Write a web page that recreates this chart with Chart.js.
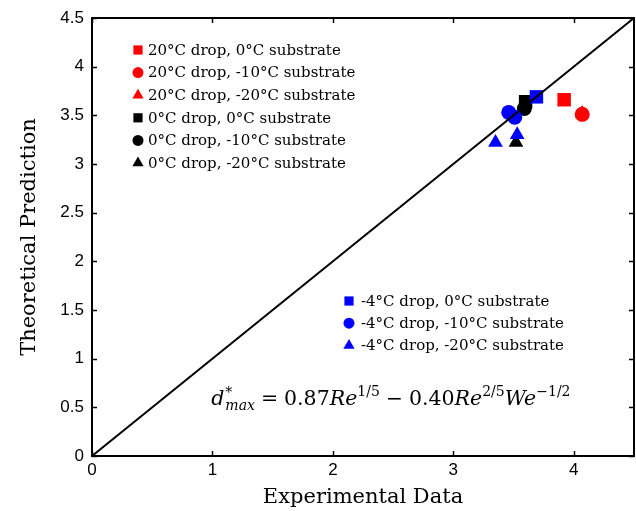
<!DOCTYPE html>
<html><head><meta charset="utf-8">
<script src="https://cdn.jsdelivr.net/npm/chart.js@4/dist/chart.umd.min.js"></script>
<style>html,body{margin:0;padding:0;background:#fff}#wrap{width:636px;height:511px}</style>
</head><body><div id="wrap"><canvas id="c" width="636" height="511"></canvas></div>
<script>
const xTicks = [0, 1, 2, 3, 4];
const yTicks = [0, 0.5, 1, 1.5, 2, 2.5, 3, 3.5, 4, 4.5];
const xTitle = 'Experimental Data';
const yTitle = 'Theoretical Prediction';
const seriesLabels = [
  '20°C drop, 0°C substrate', '20°C drop, -10°C substrate', '20°C drop, -20°C substrate',
  '0°C drop, 0°C substrate', '0°C drop, -10°C substrate', '0°C drop, -20°C substrate',
  '-4°C drop, 0°C substrate', '-4°C drop, -10°C substrate', '-4°C drop, -20°C substrate'
];
const seriesColors = ['#ff0000','#ff0000','#ff0000','#000000','#000000','#000000','#0000ff','#0000ff','#0000ff'];
const seriesShapes = ['rect','circle','triangle','rect','circle','triangle','rect','circle','triangle'];
// experimental x, theoretical y for each series
const red0x = [3.92], red0y = [3.66];
const red10x = [4.07], red10y = [3.51];
const red20x = [4.07], red20y = [3.52];
const blk0x = [3.6], blk0y = [3.64];
const blk10x = [3.59], blk10y = [3.57];
const blk20x = [3.52], blk20y = [3.22];
const blu0x = [3.69], blu0y = [3.69];
const blu10x = [3.46, 3.51], blu10y = [3.53, 3.48];
const blu20x = [3.35, 3.53], blu20y = [3.22, 3.3];
const seriesX = [red0x, red10x, red20x, blk0x, blk10x, blk20x, blu0x, blu10x, blu20x];
const seriesY = [red0y, red10y, red20y, blk0y, blk10y, blk20y, blu0y, blu10y, blu20y];
const lineX = [0, 4.5], lineY = [0, 4.5];
const legendGroupA = [0,1,2,3,4,5];
const legendGroupB = [6,7,8];

const radii = {rect: 9.5, circle: 7.5, triangle: 8.5};
const datasets = [{
  label: 'y = x', data: lineX.map((x,i)=>({x, y: lineY[i]})), showLine: true,
  borderColor: '#000', borderWidth: 2, pointRadius: 0, order: 0
}];
seriesLabels.forEach((lab, i) => {
  datasets.push({
    label: lab, data: seriesX[i].map((x,j)=>({x, y: seriesY[i][j]})),
    pointStyle: seriesShapes[i], backgroundColor: seriesColors[i], borderColor: seriesColors[i],
    borderWidth: 0, pointRadius: radii[seriesShapes[i]], pointHoverRadius: radii[seriesShapes[i]],
    showLine: false, order: i < 3 ? 3 : (i < 6 ? 2 : 1)
  });
});

const serif = '"DejaVu Serif", "Liberation Serif", serif';
const sans = '"Liberation Sans", Arial, sans-serif';

const framePlugin = {
  id: 'frame',
  afterDraw(chart) {
    const {ctx, chartArea: a, scales: {x, y}} = chart;
    ctx.save();
    ctx.strokeStyle = '#000'; ctx.lineWidth = 2;
    ctx.strokeRect(a.left, a.top, a.right - a.left, a.bottom - a.top);
    ctx.lineWidth = 1.5;
    const tl = 5;
    ctx.beginPath();
    xTicks.forEach(v => { const px = Math.round(x.getPixelForValue(v)) + 0.5;
      ctx.moveTo(px, a.bottom); ctx.lineTo(px, a.bottom - tl);
      ctx.moveTo(px, a.top); ctx.lineTo(px, a.top + tl); });
    yTicks.forEach(v => { const py = Math.round(y.getPixelForValue(v)) + 0.5;
      ctx.moveTo(a.left, py); ctx.lineTo(a.left + tl, py);
      ctx.moveTo(a.right, py); ctx.lineTo(a.right - tl, py); });
    ctx.stroke();

    // legends
    const drawGroup = (idxs, x0, y0, dy, mx) => {
      ctx.font = '15px ' + serif; ctx.textBaseline = 'middle'; ctx.textAlign = 'left';
      idxs.forEach((i, k) => {
        const yy = y0 + k * dy;
        const shape = seriesShapes[i];
        ctx.fillStyle = seriesColors[i]; ctx.strokeStyle = seriesColors[i];
        Chart.helpers.drawPoint(ctx, {pointStyle: shape, radius: shape==='rect'?6.5:(shape==='circle'?5.5:6.5), rotation: 0, borderWidth: 0}, mx, yy);
        ctx.fillStyle = '#000';
        ctx.fillText(seriesLabels[i], x0, yy + 1);
      });
    };
    drawGroup(legendGroupA, 148, 50, 22.6, 138);
    drawGroup(legendGroupB, 361, 301, 22.2, 349);

    // formula
    let fx = x.getPixelForValue(0.99), fy = y.getPixelForValue(0.52);
    ctx.textBaseline = 'alphabetic'; ctx.fillStyle = '#000';
    const main = 20.5, small = 14;
    const put = (t, style, size, dy) => { ctx.font = style + ' ' + size + 'px ' + serif; ctx.fillText(t, fx, fy + (dy||0)); fx += ctx.measureText(t).width; };
    put('d', 'italic', main);
    const sx = fx + 1;
    ctx.font = 'italic ' + small + 'px ' + serif;
    ctx.fillText('*', sx, fy - 8);
    ctx.fillText('max', sx, fy + 5);
    fx = sx + ctx.measureText('max').width + 6;
    put('=', '', main); fx += 6;
    put('0.87', '', main);
    put('Re', 'italic', main);
    put('1/5', '', small, -9); fx += 6;
    put('−', '', main); fx += 6;
    put('0.40', '', main);
    put('Re', 'italic', main);
    put('2/5', '', small, -9);
    put('We', 'italic', main);
    put('−1/2', '', small, -9);
    ctx.restore();
  }
};

new Chart(document.getElementById('c'), {
  type: 'scatter',
  data: {datasets},
  options: {
    responsive: false, animation: false, devicePixelRatio: 1,
    layout: {autoPadding: false, padding: {top: 18, right: 2, left: 0, bottom: 0}},
    plugins: {legend: {display: false}, tooltip: {enabled: false}},
    scales: {
      x: {
        type: 'linear', min: 0, max: 4.5,
        afterFit: s => { s.height = 55; s.paddingRight = 0; s.paddingLeft = 0; },
        afterBuildTicks: s => { s.ticks = xTicks.map(v => ({value: v})); },
        grid: {display: false, drawTicks: false}, border: {display: false},
        ticks: {padding: 4, color: '#000', font: {family: sans, size: 17}, callback: v => String(v)},
        title: {display: true, text: xTitle, color: '#000', font: {family: serif, size: 21}, padding: {top: 0, bottom: 1}}
      },
      y: {
        type: 'linear', min: 0, max: 4.5,
        afterFit: s => { s.width = 92; s.paddingTop = 0; s.paddingBottom = 0; },
        afterBuildTicks: s => { s.ticks = yTicks.map(v => ({value: v})); },
        grid: {display: false, drawTicks: false}, border: {display: false},
        ticks: {padding: 8, color: '#000', font: {family: sans, size: 17}, callback: v => String(v)},
        title: {display: true, text: yTitle, color: '#000', font: {family: serif, size: 21}, padding: {top: 17, bottom: 0}}
      }
    }
  },
  plugins: [framePlugin]
});
</script></body></html>
